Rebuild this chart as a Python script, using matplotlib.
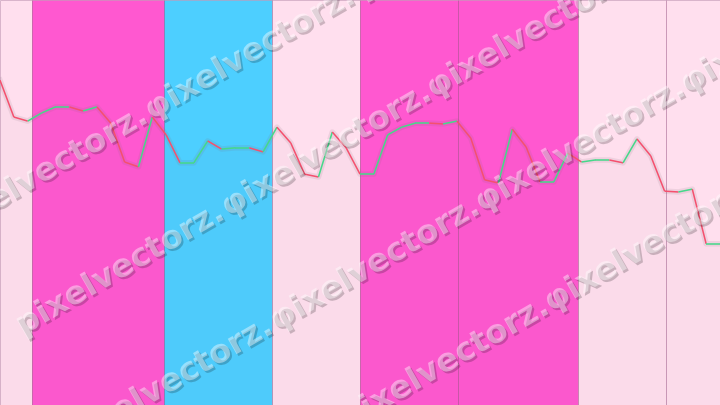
import numpy as np
import matplotlib
matplotlib.use("Agg")
import matplotlib.pyplot as plt
from matplotlib.collections import LineCollection
import matplotlib.patheffects as pe

# ---- data -------------------------------------------------------------
values = [80.2, 71.1, 70.1, 72.1, 73.6, 73.6, 72.6, 73.6, 69.6, 60.0,
          58.8, 71.1, 66.7, 59.8, 59.8, 65.2, 63.2, 63.5, 63.5, 62.5,
          68.6, 64.7, 57.0, 56.3, 67.4, 63.5, 57.0, 57.0, 66.7, 68.6,
          69.6, 69.6, 69.4, 70.1, 65.9, 55.6, 54.8, 68.1, 63.7, 55.1,
          55.1, 62.2, 60.0, 60.5, 60.5, 59.8, 65.7, 61.5, 52.8, 52.6,
          53.3, 39.8, 39.8]
regime_start = [0.0, 2.31, 11.84, 19.64, 26.0, 33.08, 41.74, 48.1]
regime_end = [2.31, 11.84, 19.64, 26.0, 33.08, 41.74, 48.1, 52.0]
regime_kind = ["calm", "hot", "cool", "calm", "hot", "hot", "calm", "calm"]
watermark_word = "pixelvectorz."

# ---- styling ----------------------------------------------------------
kind_color = {"calm": "#FFDFEE", "hot": "#FF58D0", "cool": "#4DCFFF"}
UP = "#45D98A"
DOWN = "#F5506E"

W, H, DPI = 720, 405, 100
fig = plt.figure(figsize=(W / DPI, H / DPI), dpi=DPI)
ax = fig.add_axes([0, 0, 1, 1])
ax.set_axis_off()

x = np.arange(len(values))
y = np.array(values)
ax.set_xlim(0, len(values) - 1)
ax.set_ylim(0, 100)

for s, e, k in zip(regime_start, regime_end, regime_kind):
    ax.axvspan(s, e, facecolor=kind_color[k], edgecolor=(0.45, 0.1, 0.35, 0.28),
               linewidth=0.7, zorder=0)

ax.fill_between(x, y, 0, color="#806080", alpha=0.03, linewidth=0, zorder=1)

pts = np.column_stack([x, y])
segs = np.stack([pts[:-1], pts[1:]], axis=1)
cols = [UP if b >= a else DOWN for a, b in zip(y[:-1], y[1:])]
ax.plot(x, y, color=(0.5, 0.4, 0.45), alpha=0.12, linewidth=4,
        solid_joinstyle="round", zorder=2)
lc = LineCollection(segs, colors=cols, linewidths=1.1, zorder=3)
ax.add_collection(lc)

# ---- watermark --------------------------------------------------------
ang = np.deg2rad(30)
ca, sa = np.cos(ang), np.sin(ang)
row_v = [180, 302, 425, 546]
row_u = [-166, -148, -163, -153]
period = 237
for v, u0 in zip(row_v, row_u):
    for j in range(4):
        u = u0 + j * period
        word = watermark_word if j == 0 else "\u03c6" + watermark_word[1:]
        px = u * ca + v * sa
        py = -u * sa + v * ca
        fig.text(px / W, 1 - py / H, word, rotation=30, rotation_mode="anchor",
                 ha="left", va="baseline", fontsize=23.3, fontweight="bold",
                 family=["DejaVu Sans"], color=(1, 1, 1, 0.42), zorder=10,
                 path_effects=[pe.withSimplePatchShadow(offset=(1.4, -1.4),
                                                        shadow_rgbFace="black",
                                                        alpha=0.2)])

fig.savefig("out.png", dpi=DPI)
